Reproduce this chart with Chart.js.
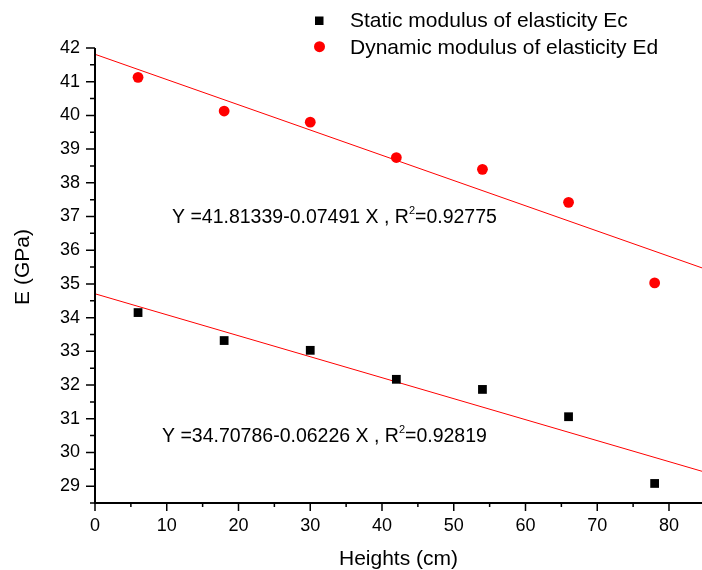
<!DOCTYPE html>
<html lang="en">
<head>
  <meta charset="UTF-8">
  <title>Modulus of elasticity vs height</title>
  <script src="https://cdn.jsdelivr.net/npm/chart.js"></script>
  <style>
    body { margin: 0; background: #fff; }
    canvas { display: block; }
  </style>
</head>
<body>
  <canvas id="chart" width="702" height="570"></canvas>
  <script>
    // measured values
    const heights = [6, 18, 30, 42, 54, 66, 78];
    const staticE = [34.15, 33.32, 33.03, 32.17, 31.87, 31.06, 29.08];
    const dynamicE = [41.13, 40.13, 39.80, 38.75, 38.40, 37.42, 35.03];

    // linear fits: [intercept, slope, R^2]
    const fitStatic = [34.70786, -0.06226, 0.92819];
    const fitDynamic = [41.81339, -0.07491, 0.92775];

    const xTicks = [0, 10, 20, 30, 40, 50, 60, 70, 80];
    const yTicks = [29, 30, 31, 32, 33, 34, 35, 36, 37, 38, 39, 40, 41, 42];
    const xMin = 0, xMax = 84.6, yMin = 28.5, yMax = 42;

    const FONT = '"Liberation Sans", Arial, sans-serif';

    function fitLine(fit) {
      return [xMin, xMax].map(x => ({x: x, y: fit[0] + fit[1] * x}));
    }
    function points(ys) {
      return heights.map((h, i) => ({x: h, y: ys[i]}));
    }

    function eqText(ctx, x, y, fit) {
      const head = 'Y =' + fit[0].toFixed(5) + fit[1].toFixed(5) + ' X , R';
      ctx.font = '19.5px ' + FONT;
      ctx.fillText(head, x, y);
      let cx = x + ctx.measureText(head).width;
      ctx.font = '11px ' + FONT;
      ctx.fillText('2', cx, y - 9);
      cx += ctx.measureText('2').width;
      ctx.font = '19.5px ' + FONT;
      ctx.fillText('=' + fit[2].toFixed(5), cx, y);
    }

    // axes with outward major/minor ticks, legend, fit equations, titles
    const decor = {
      id: 'decor',
      afterDraw(chart) {
        const ctx = chart.ctx;
        const xs = chart.scales.x, ys = chart.scales.y;
        const a = chart.chartArea;
        ctx.save();
        ctx.strokeStyle = '#000';
        ctx.lineWidth = 2;
        ctx.beginPath();
        ctx.moveTo(a.left, a.top);
        ctx.lineTo(a.left, a.bottom);
        ctx.lineTo(a.right, a.bottom);
        ctx.stroke();

        ctx.lineWidth = 1.5;
        ctx.beginPath();
        yTicks.forEach(v => {
          const p = ys.getPixelForValue(v);
          ctx.moveTo(a.left, p); ctx.lineTo(a.left - 9, p);
          const m = ys.getPixelForValue(v - 0.5);
          ctx.moveTo(a.left, m); ctx.lineTo(a.left - 5, m);
        });
        xTicks.forEach(v => {
          const p = xs.getPixelForValue(v);
          ctx.moveTo(p, a.bottom); ctx.lineTo(p, a.bottom + 8);
          const m = xs.getPixelForValue(v + 5);
          if (v + 5 < xMax) { ctx.moveTo(m, a.bottom); ctx.lineTo(m, a.bottom + 4); }
        });
        ctx.stroke();

        ctx.fillStyle = '#000';
        ctx.textBaseline = 'alphabetic';
        ctx.textAlign = 'left';

        // legend
        ctx.fillRect(315, 16.5, 8.5, 8.5);
        ctx.fillStyle = '#ff0000';
        ctx.beginPath();
        ctx.arc(319.5, 46.7, 5.5, 0, Math.PI * 2);
        ctx.fill();
        ctx.fillStyle = '#000';
        ctx.font = '21px ' + FONT;
        ctx.fillText('Static modulus of elasticity Ec', 350, 26.7);
        ctx.fillText('Dynamic modulus of elasticity Ed', 350, 54);

        eqText(ctx, 172, 223.3, fitDynamic);
        eqText(ctx, 162, 441.7, fitStatic);

        // axis titles
        ctx.font = '21px ' + FONT;
        ctx.textAlign = 'center';
        ctx.fillText('Heights (cm)', (a.left + a.right) / 2, 565);
        ctx.translate(29, 267);
        ctx.rotate(-Math.PI / 2);
        ctx.fillText('E (GPa)', 0, 0);
        ctx.restore();
      }
    };

    new Chart(document.getElementById('chart'), {
      type: 'scatter',
      data: {
        datasets: [{
          label: 'fit Ed',
          data: fitLine(fitDynamic),
          showLine: true,
          borderColor: '#ff0000',
          borderWidth: 1,
          pointRadius: 0,
          order: 3
        }, {
          label: 'fit Ec',
          data: fitLine(fitStatic),
          showLine: true,
          borderColor: '#ff0000',
          borderWidth: 1,
          pointRadius: 0,
          order: 4
        }, {
          label: 'Static modulus of elasticity Ec',
          data: points(staticE),
          pointStyle: 'rect',
          pointRadius: 6.2,
          backgroundColor: '#000',
          borderWidth: 0,
          order: 1
        }, {
          label: 'Dynamic modulus of elasticity Ed',
          data: points(dynamicE),
          pointStyle: 'circle',
          pointRadius: 5.4,
          backgroundColor: '#ff0000',
          borderWidth: 0,
          order: 2
        }]
      },
      options: {
        responsive: false,
        animation: false,
        layout: { autoPadding: false, padding: { top: 48, right: 0, left: 0, bottom: 0 } },
        plugins: {
          legend: { display: false },
          tooltip: { enabled: false }
        },
        scales: {
          x: {
            type: 'linear',
            min: xMin,
            max: xMax,
            grid: { display: false, drawTicks: false },
            border: { display: false },
            afterBuildTicks: s => { s.ticks = xTicks.map(v => ({value: v})); },
            afterFit: s => { s.height = 67; },
            ticks: { padding: 12, color: '#000', font: { family: FONT, size: 18 } }
          },
          y: {
            min: yMin,
            max: yMax,
            grid: { display: false, drawTicks: false },
            border: { display: false },
            afterBuildTicks: s => { s.ticks = yTicks.map(v => ({value: v})); },
            afterFit: s => { s.width = 95; },
            ticks: { padding: 15, color: '#000', font: { family: FONT, size: 18 } }
          }
        }
      },
      plugins: [decor]
    });
  </script>
</body>
</html>
